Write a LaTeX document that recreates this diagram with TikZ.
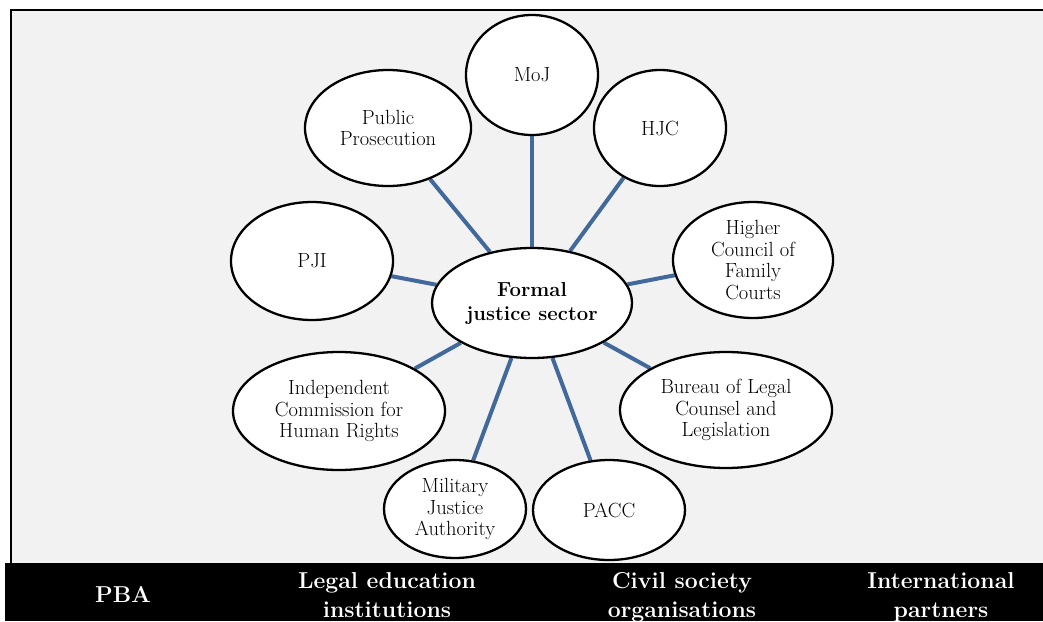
\documentclass[tikz,border=0pt]{standalone}
\usepackage{fontspec}
\setmainfont{Latin Modern Roman}
\usetikzlibrary{shapes.geometric}
\definecolor{panelgray}{RGB}{242,242,242}
\definecolor{linkblue}{RGB}{65,105,155}
\pgfdeclarelayer{bg}
\pgfsetlayers{bg,main}
\begin{document}
\begin{tikzpicture}[x=1pt,y=-1pt,
  bubble/.style={ellipse, draw=black, line width=2.3pt, fill=white, inner sep=0pt,
    align=center, text=black, font=\fontsize{20.5}{21.8}\selectfont},
  corefont/.style={font=\fontsize{20.3}{24}\selectfont\bfseries},
  link/.style={draw=linkblue, line width=4pt},
  band/.style={text=white, align=center, inner sep=0pt,
    font=\fontsize{23}{29}\selectfont\bfseries}]
\useasboundingbox (0,0) rectangle (1043,621);

% central hub
\node[bubble, corefont, minimum width=200pt, minimum height=110pt] (core) at (532,303) {Formal\\justice sector};

% surrounding bodies
\node[bubble, minimum width=132pt, minimum height=120pt] (moj)  at (532,75)  {MoJ};
\node[bubble, minimum width=132pt, minimum height=116pt] (hjc)  at (660,128) {HJC};
\node[bubble, minimum width=166pt, minimum height=116pt] (pp)   at (388,128) {Public\\Prosecution};
\node[bubble, minimum width=162pt, minimum height=118pt] (pji)  at (312,261) {PJI};
\node[bubble, minimum width=160pt, minimum height=116pt] (hcfc) at (753,260) {Higher\\Council of\\Family\\Courts};
\node[bubble, minimum width=212pt, minimum height=118pt] (ichr) at (339,411) {Independent\\Commission for\\Human Rights};
\node[bubble, minimum width=212pt, minimum height=116pt] (blcl) at (726,410) {Bureau of Legal\\Counsel and\\Legislation};
\node[bubble, minimum width=142pt, minimum height=98pt]  (mja)  at (455,509) {Military\\Justice\\Authority};
\node[bubble, minimum width=152pt, minimum height=100pt] (pacc) at (609,510) {PACC};

% bottom band labels
\node[band] (pba)  at (123,594) {PBA};
\node[band] (ledu) at (387,595) {Legal education\\institutions};
\node[band] (cso)  at (682,597) {Civil society\\organisations};
\node[band] (intl) at (941,597) {International\\partners};

\begin{pgfonlayer}{bg}
  % white page, grey panel and black band
  \fill[white] (0,0) rectangle (1043,621);
  \draw[fill=panelgray, line width=2pt] (11,10) rectangle (1060,575);
  \fill[black] (5,563) rectangle (1043,621);
  % spokes from the hub
  \foreach \n in {moj,hjc,pp,pji,hcfc,ichr,blcl,mja,pacc}
    \draw[link] (core) -- (\n);
\end{pgfonlayer}
\end{tikzpicture}
\end{document}
